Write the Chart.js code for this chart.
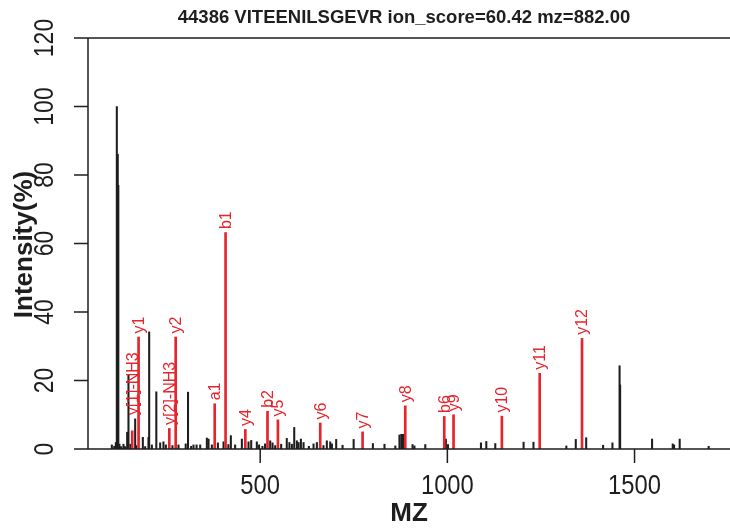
<!DOCTYPE html>
<html>
<head>
<meta charset="utf-8">
<script src="https://cdn.jsdelivr.net/npm/chart.js@4.4.0/dist/chart.umd.min.js"></script>
<style>
  html, body { margin: 0; padding: 0; background: #fff; }
  canvas { display: block; }
</style>
</head>
<body>
<canvas id="spec" width="730" height="529"></canvas>
<script>
const titleText = '44386 VITEENILSGEVR ion_score=60.42 mz=882.00';
const xTicks = [500, 1000, 1500];
const yTicks = [0, 20, 40, 60, 80, 100, 120];

// unmatched peaks (black)
const peakMz = [103.7, 110, 114.4, 117.0, 119.5, 121.0, 124, 128.5, 134.7, 139, 144.6, 148.1, 153.4, 166, 168.6,
  186.5, 192.7, 201.5, 203.4, 210.6, 222.5, 232.8, 241.6, 248, 265.6, 281.7, 301, 307.2, 315.6, 321.8, 330,
  339.7, 357.5, 362, 370.9, 387, 402, 415, 421.6, 433, 451, 468.8, 476, 491, 497, 506, 513, 526.7, 533, 540,
  556, 571, 578, 584.6, 590.9, 598, 602.5, 608.7, 615.8, 630, 642.5, 651.4, 669, 678, 687, 691.6, 703, 720,
  749.6, 801, 832, 861, 872, 877, 881.4, 907, 912, 941, 996, 1001.6, 1089.7, 1104, 1128, 1203.6, 1230,
  1317.8, 1343, 1370.8, 1416, 1441, 1460, 1461.5, 1546.8, 1602, 1605.6, 1620.6, 1698];
const peakInt = [1.2, 0.8, 1.9, 100, 86, 77, 1.4, 0.7, 1.4, 0.7, 4.9, 21.6, 1.4, 8.8, 1.0,
  3.4, 0.7, 3.4, 34.2, 1.2, 16.7, 1.8, 2.1, 1.2, 1.0, 1.2, 1.5, 16.6, 0.8, 1.2, 1.2,
  1.2, 3.2, 2.9, 1.2, 1.8, 2.1, 1.3, 3.9, 1.2, 2.9, 2.1, 2.5, 2.1, 1.2, 0.8, 1.5, 2.4, 1.8, 1.0,
  1.4, 3.1, 1.9, 1.4, 6.3, 2.4, 1.9, 2.9, 1.9, 0.8, 1.5, 1.9, 1.0, 2.4, 2.1, 1.5, 2.8, 1.1,
  2.8, 1.6, 1.4, 0.9, 4.1, 4.3, 4.3, 1.3, 0.9, 1.3, 2.9, 1.3, 1.8, 2.2, 1.6, 2.0, 2.0,
  0.9, 2.8, 3.3, 1.1, 1.8, 24.3, 18.7, 2.9, 1.5, 1.2, 2.9, 0.8];

// matched fragment ions (red)
const ionNames = ['y[1]-NH3', 'y1', 'y[2]-NH3', 'y2', 'a1', 'b1', 'y4', 'b2', 'y5', 'y6', 'y7', 'y8', 'b6', 'y9', 'y10', 'y11', 'y12'];
const ionMz = [158.1, 175.1, 257.2, 274.2, 378.5, 407.5, 460.3, 519.5, 547.3, 660.4, 773.5, 887.5, 991.7, 1016.5, 1145.6, 1246.6, 1359.7];
const ionInt = [5.3, 32.7, 6.0, 32.7, 13.2, 63.2, 5.7, 11.0, 8.5, 7.6, 5.0, 12.6, 9.5, 10.0, 9.6, 22.1, 32.3];

const ink = '#1e1e1e';
const red = '#e6242b';

function drawText(ctx, txt, x, y, font, rot, sx, align, base) {
  ctx.save();
  ctx.translate(x, y);
  ctx.rotate(rot);
  ctx.scale(sx, 1);
  ctx.font = font;
  ctx.textAlign = align;
  ctx.textBaseline = base;
  ctx.fillText(txt, 0, 0);
  ctx.restore();
}

const framePlugin = {
  id: 'frame',
  afterDatasetsDraw(chart) {
    const ctx = chart.ctx;
    const a = chart.chartArea;
    const xs = chart.scales.x, ys = chart.scales.y;
    ctx.save();
    ctx.strokeStyle = ink;
    ctx.lineWidth = 1.5;
    ctx.beginPath();
    ctx.moveTo(a.right + 2, a.top);
    ctx.lineTo(a.left, a.top);
    ctx.lineTo(a.left, a.bottom);
    ctx.lineTo(a.right + 2, a.bottom);
    // tick marks
    xTicks.forEach(v => {
      const px = xs.getPixelForValue(v);
      ctx.moveTo(px, a.bottom);
      ctx.lineTo(px, a.bottom + 14);
    });
    yTicks.forEach(v => {
      const py = ys.getPixelForValue(v);
      ctx.moveTo(a.left, py);
      ctx.lineTo(a.left - 14, py);
    });
    ctx.stroke();

    ctx.fillStyle = ink;
    xTicks.forEach(v => {
      drawText(ctx, String(v), xs.getPixelForValue(v), a.bottom + 45, '28px "Liberation Sans", Arial', 0, 0.85, 'center', 'alphabetic');
    });
    yTicks.forEach(v => {
      drawText(ctx, String(v), a.left - 35, ys.getPixelForValue(v), '27px "Liberation Sans", Arial', -Math.PI / 2, 0.85, 'center', 'alphabetic');
    });
    drawText(ctx, titleText, 404, 23, 'bold 18.5px "Liberation Sans", Arial', 0, 1, 'center', 'alphabetic');
    drawText(ctx, 'MZ', (a.left + a.right) / 2, 521, 'bold 26px "Liberation Sans", Arial', 0, 1, 'center', 'alphabetic');
    drawText(ctx, 'Intensity(%)', 32, (a.top + a.bottom) / 2 + 1, 'bold 26px "Liberation Sans", Arial', -Math.PI / 2, 1, 'center', 'alphabetic');

    // ion labels, placed above the highest nearby peak
    ctx.fillStyle = red;
    ionNames.forEach((name, i) => {
      let top = ionInt[i];
      peakMz.forEach((m, j) => {
        if (Math.abs(m - ionMz[i]) < 9 && peakInt[j] > top) top = peakInt[j];
      });
      const px = xs.getPixelForValue(ionMz[i]) + 1;
      const py = ys.getPixelForValue(top) - 3.5;
      drawText(ctx, name, px, py, '16px "Liberation Sans", Arial', -Math.PI / 2, 1, 'left', 'middle');
    });
    ctx.restore();
  }
};

const blackData = peakMz.map((m, i) => ({ x: m, y: peakInt[i] }));
const redData = ionMz.map((m, i) => ({ x: m, y: ionInt[i] }));

new Chart(document.getElementById('spec'), {
  type: 'bar',
  data: {
    datasets: [
      { label: 'peaks', data: blackData, backgroundColor: ink, barThickness: 1.4, order: 2 },
      { label: 'ions', data: redData, backgroundColor: red, barThickness: 2, order: 1 }
    ]
  },
  options: {
    responsive: false,
    animation: false,
    grouped: false,
    layout: { padding: { left: 88, top: 38, right: 0, bottom: 80 } },
    scales: {
      x: { type: 'linear', min: 40, max: 1755, offset: false, display: false },
      y: { min: 0, max: 120, display: false }
    },
    plugins: { legend: { display: false }, tooltip: { enabled: false } }
  },
  plugins: [framePlugin]
});
</script>
</body>
</html>
